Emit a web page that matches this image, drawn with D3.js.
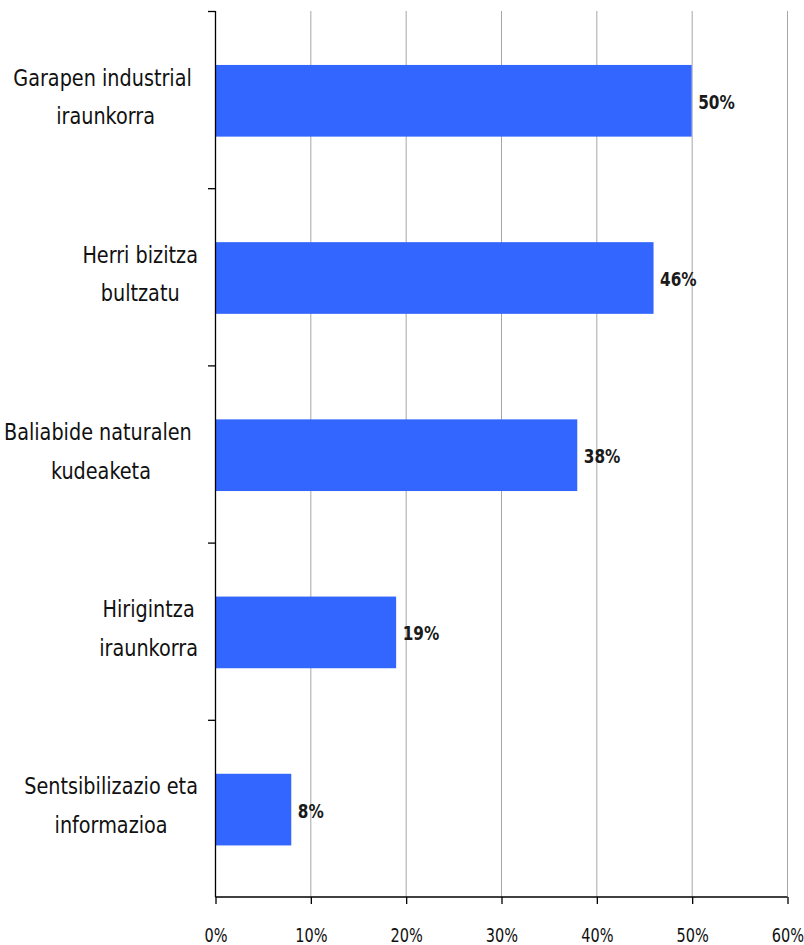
<!DOCTYPE html>
<html><head><meta charset="utf-8">
<script src="https://cdn.jsdelivr.net/npm/d3@7"></script>
<style>body{margin:0;background:#fff;} svg{display:block;}</style>
</head><body><svg id="c" width="804" height="945"></svg>
<script>
const categories = [
  ["Garapen industrial ", "iraunkorra"],
  ["Herri bizitza", "bultzatu"],
  ["Baliabide naturalen ", "kudeaketa"],
  ["Hirigintza", "iraunkorra"],
  ["Sentsibilizazio eta", "informazioa"]
];
const values = [50, 46, 38, 19, 8];
const xTicks = [0, 10, 20, 30, 40, 50, 60];

const svg = d3.select("#c");
const mLeft = 215, mRight = 787, mTop = 11, mBottom = 897;
const font = "'DejaVu Sans Condensed', 'DejaVu Sans', sans-serif";

const x = d3.scaleLinear().domain([0, 60]).range([mLeft, mRight]);
const y = d3.scaleBand().domain(d3.range(categories.length)).range([mTop + 1.2, mBottom + 1.2]).paddingInner(0.5955).paddingOuter(0.2977);
const yb = d3.scaleBand().domain(d3.range(categories.length)).range([mTop, mBottom]);

// gridlines
svg.append("g").selectAll("line").data(xTicks.slice(1)).join("line")
  .attr("x1", d => x(d) + 0.5).attr("x2", d => x(d) + 0.5)
  .attr("y1", mTop).attr("y2", mBottom)
  .attr("stroke", "#a6a6a6").attr("stroke-width", 1);

// bars
svg.append("g").selectAll("rect").data(values).join("rect")
  .attr("x", x(0)).attr("y", (d, i) => y(i))
  .attr("width", d => x(d) - x(0)).attr("height", y.bandwidth())
  .attr("fill", "#3366ff");

// value labels
svg.append("g").selectAll("g").data(values).join("g")
  .attr("transform", (d, i) => `translate(${x(d) + 6.5},${y(i) + y.bandwidth() / 2 + 8}) scale(0.85,1)`)
  .append("text")
  .attr("font-family", font).attr("font-size", 20).attr("font-weight", "bold")
  .attr("fill", "#1a1a1a")
  .text(d => d + "%");

// x axis
const xAxis = d3.axisBottom(x).tickValues(xTicks).tickFormat(d => d + "%").tickSize(7);
const gx = svg.append("g").attr("transform", `translate(0.5,${mBottom})`).call(xAxis);
gx.select(".domain").attr("d", `M${mLeft},0H${mRight}`).attr("stroke", "#000").attr("stroke-width", 1.3);
gx.selectAll(".tick line").attr("stroke", "#000").attr("stroke-width", 1.3);
gx.selectAll(".tick text").attr("font-family", font).attr("font-size", 19).attr("fill", "#111")
  .attr("y", 45).attr("dy", null).attr("transform", "scale(0.85,1)");

// y axis line + ticks at band boundaries
svg.append("line").attr("x1", mLeft + 0.5).attr("x2", mLeft + 0.5).attr("y1", mTop).attr("y2", mBottom)
  .attr("stroke", "#000").attr("stroke-width", 1.3);
const bounds = d3.range(categories.length).map(i => yb(i));
svg.append("g").selectAll("line").data(bounds).join("line")
  .attr("x1", mLeft - 7).attr("x2", mLeft + 0.5).attr("y1", d => d + 0.5).attr("y2", d => d + 0.5)
  .attr("stroke", "#000").attr("stroke-width", 1.3);

// category labels
const sx = 0.93;
const lab = svg.append("g").attr("font-family", font).attr("font-size", 23).attr("fill", "#111");
categories.forEach((lines, i) => {
  const cy = yb(i) + yb.bandwidth() / 2;
  const gs = lines.map((t, k) => {
    const g = lab.append("g");
    const tx = g.append("text").attr("xml:space", "preserve").attr("text-anchor", "middle").text(t);
    return {g, tx, base: cy - 14 + k * 38.5};
  });
  const maxW = d3.max(gs, o => o.tx.node().getComputedTextLength()) * sx;
  const cx = 198 - maxW / 2;
  gs.forEach(o => o.g.attr("transform", `translate(${cx},${o.base}) scale(${sx},1)`));
});
</script></body></html>
